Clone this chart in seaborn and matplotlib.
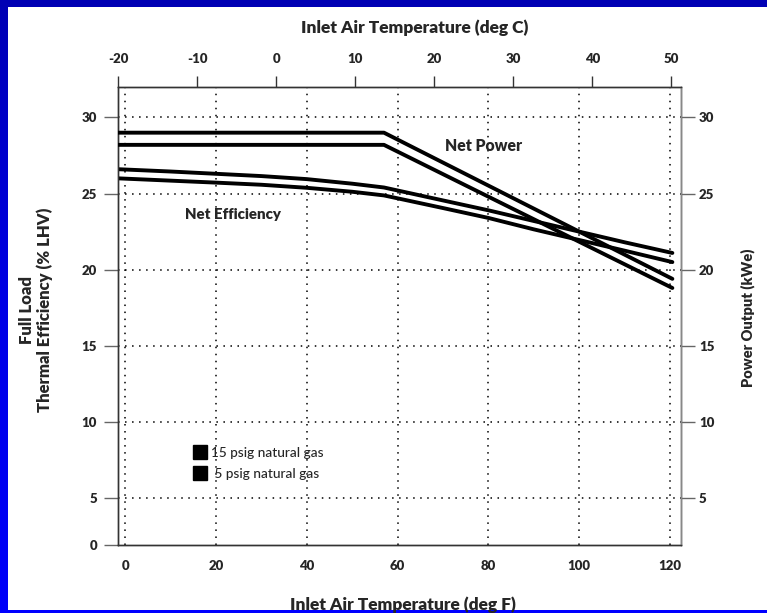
import numpy as np
import pandas as pd
import matplotlib
matplotlib.use("Agg")
import matplotlib.pyplot as plt
import seaborn as sns
from matplotlib.lines import Line2D
from matplotlib.colors import LinearSegmentedColormap

# ---------------- data ----------------
temp_eff_f = [-1.5, 10, 20, 30, 40, 50, 57, 70, 80, 90, 100, 110, 120.5]
eff_15psig = [26.6, 26.45, 26.3, 26.15, 25.95, 25.65, 25.4, 24.55, 23.9, 23.2, 22.5, 21.8, 21.1]
eff_5psig = [26.0, 25.85, 25.72, 25.58, 25.38, 25.12, 24.88, 24.05, 23.4, 22.65, 21.95, 21.25, 20.5]

temp_power_f = [-1.5, 57, 120.5]
power_15psig = [29.0, 29.0, 19.4]
power_5psig = [28.2, 28.2, 18.8]

x_ticks_f = [0, 20, 40, 60, 80, 100, 120]
x_ticks_c = [-20, -10, 0, 10, 20, 30, 40, 50]
y_ticks = [5, 10, 15, 20, 25, 30]
y_tick_labels = ["5", "10", "15", "20", "25", "30"]
legend_labels = ["15 psig natural gas", " 5 psig natural gas"]

title_top = "Inlet Air Temperature (deg C)"
title_bottom = "Inlet Air Temperature (deg F)"
ylabel_left = "Full Load\nThermal Efficiency (% LHV)"
ylabel_right = "Power Output (kWe)"

# ---------------- style ----------------
sns.set_style("white")
plt.rcParams["font.family"] = ["Lato", "DejaVu Sans"]
HEAVY = "heavy"

W, H = 767, 613
fig = plt.figure(figsize=(W / 100, H / 100), dpi=100, facecolor="white")
ax = fig.add_axes([118 / W, 1 - 545 / H, (681 - 118) / W, (545 - 87) / H])
ax2 = ax.twinx()

xlim = (-1.56, 122.4)
ylim = (1.92, 32.0)
for a in (ax, ax2):
    a.set_xlim(*xlim)
    a.set_ylim(*ylim)

eff_df = pd.concat([
    pd.DataFrame({"temp": temp_eff_f, "value": eff_15psig, "series": "15 psig"}),
    pd.DataFrame({"temp": temp_eff_f, "value": eff_5psig, "series": "5 psig"}),
])
pow_df = pd.concat([
    pd.DataFrame({"temp": temp_power_f, "value": power_15psig, "series": "15 psig"}),
    pd.DataFrame({"temp": temp_power_f, "value": power_5psig, "series": "5 psig"}),
])

sns.lineplot(data=eff_df, x="temp", y="value", hue="series", palette=["black", "black"],
             linewidth=2.8, estimator=None, legend=False, ax=ax, zorder=5)
sns.lineplot(data=pow_df, x="temp", y="value", hue="series", palette=["black", "black"],
             linewidth=2.8, estimator=None, legend=False, ax=ax2, zorder=5)

# ticks and grid
ax.set_xticks(x_ticks_f)
ax.set_xticklabels([str(t) for t in x_ticks_f])
ax.set_yticks([ylim[0]] + y_ticks)
ax.set_yticklabels(["0"] + y_tick_labels)
ax.grid(False)
for t in x_ticks_f:
    ax.axvline(t, color="black", lw=1.1, ls=(0, (1, 3.6)), zorder=1)
for t in y_ticks:
    ax.axhline(t, color="black", lw=1.1, ls=(0, (1, 3.6)), zorder=1)

ax2.set_yticks(y_ticks)
ax2.set_yticklabels(y_tick_labels)
ax2.grid(False)

ax.tick_params(axis="x", direction="out", length=8, width=1, color="#444444", pad=3,
               labelsize=9.5)
ax.tick_params(axis="y", direction="out", length=10, width=1, color="#666666", pad=5,
               labelsize=9.5)
ax2.tick_params(axis="y", direction="out", length=10, width=1, color="#666666", pad=3,
                labelsize=9.5)
for lab in ax.get_xticklabels() + ax.get_yticklabels() + ax2.get_yticklabels():
    lab.set_fontweight(HEAVY)

ax.set_xlabel("")
ax.set_ylabel("")
ax2.set_ylabel("")

for a in (ax, ax2):
    for side, sp in a.spines.items():
        sp.set_visible(True)
        sp.set_linewidth(1.0)
        sp.set_color("#333333")
ax2.spines["right"].set_color("#888888")

# top Celsius axis (positions as drawn on the original chart)
def f2c(f):
    return (np.asarray(f) - 33.3) / 1.74

def c2f(c):
    return 33.3 + 1.74 * np.asarray(c)

secax = ax.secondary_xaxis("top", functions=(f2c, c2f))
secax.set_xticks(x_ticks_c)
secax.set_xticklabels([str(t) for t in x_ticks_c])
secax.tick_params(direction="out", length=8, width=1, color="#333333", pad=8, labelsize=9.5)
for lab in secax.get_xticklabels():
    lab.set_fontweight(HEAVY)
secax.spines["top"].set_visible(False)

# annotations
ax2.text(70.5, 28.1, "Net Power", fontsize=11.3, fontweight=HEAVY, va="center", ha="left")
ax.text(13.2, 23.6, "Net Efficiency", fontsize=10.8, fontweight=HEAVY, va="center", ha="left")

# legend
handles = [Line2D([], [], marker="s", color="black", ls="none", markersize=10.5) for _ in legend_labels]
leg = ax.legend(handles, legend_labels, loc="upper left", bbox_to_anchor=(0.133, 0.214),
                frameon=False, borderpad=0, borderaxespad=0, handlelength=1.0,
                handletextpad=0.3, labelspacing=0.68, prop={"size": 9.8, "weight": "medium"})

# axis titles
fig.text(36 / W, 1 - 310 / H, ylabel_left, rotation=90, ha="center", va="center",
         fontsize=12, fontweight=HEAVY, linespacing=1.1, multialignment="center")
fig.text(748 / W, 1 - 318 / H, ylabel_right, rotation=90, ha="center", va="center",
         fontsize=10.5, fontweight=HEAVY)
fig.text(415 / W, 1 - 28 / H, title_top, ha="center", va="center", fontsize=12.5, fontweight=HEAVY)
fig.text(403 / W, 1 - 605 / H, title_bottom, ha="center", va="center", fontsize=12.5, fontweight=HEAVY)

# blue frame
top_bar = fig.add_axes([0, 1 - 7 / H, 1, 7 / H])
top_bar.set_axis_off()
top_bar.add_patch(plt.Rectangle((0, 0), 1, 1, color="#0000B4", transform=top_bar.transAxes))
left_bar = fig.add_axes([0, 0, 8 / W, 1])
cmap = LinearSegmentedColormap.from_list("bl", ["#0000FA", "#0000E6", "#0000B4"])
left_bar.imshow(np.linspace(0, 1, 256)[:, None], aspect="auto", cmap=cmap, origin="lower",
                extent=(0, 1, 0, 1))
left_bar.set_axis_off()
bot_bar = fig.add_axes([0, 0, 1, 3 / H])
bot_bar.set_axis_off()
bot_bar.add_patch(plt.Rectangle((0, 0), 1, 1, color="#0000FF", transform=bot_bar.transAxes))

fig.savefig("out.png", dpi=100, facecolor="white")
